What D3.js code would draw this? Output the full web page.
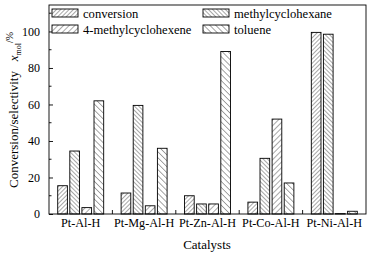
<!DOCTYPE html>
<html>
<head>
<meta charset="utf-8">
<script src="https://cdn.jsdelivr.net/npm/d3@7"></script>
<style>
  body { margin: 0; background: #fff; }
</style>
</head>
<body>
<svg id="canvas"></svg>
<script>
// data
const catalysts = ["Pt-Al-H", "Pt-Mg-Al-H", "Pt-Zn-Al-H", "Pt-Co-Al-H", "Pt-Ni-Al-H"];
const seriesNames = ["conversion", "methylcyclohexane", "4-methylcyclohexene", "toluene"];
const conversion = [15.5, 11.5, 10, 6.5, 99.5];
const methylcyclohexane = [34.5, 59.5, 5.5, 30.5, 98.5];
const methylcyclohexene = [3.5, 4.5, 5.5, 52, 0.2];
const toluene = [62, 36, 89, 17, 1.5];
const yTicks = [0, 20, 40, 60, 80, 100];
const yMinorTicks = [10, 30, 50, 70, 90, 110];

const values = [conversion, methylcyclohexane, methylcyclohexene, toluene];
const data = catalysts.map((c, i) => ({
    cat: c,
    vals: seriesNames.map((k, j) => ({ key: k, v: values[j][i] }))
}));

const width = 372, height = 257;
const serif = "Liberation Serif";
const svg = d3.select("#canvas").attr("width", width).attr("height", height)
    .attr("font-family", serif);

const marginTop = 5, marginRight = 6, marginBottom = 43, marginLeft = 49;
const plotR = width - marginRight;
const plotB = height - marginBottom;

// hatch patterns: angle, spacing
const hatch = [
    { id: "p0", rot: 45, gap: 3 },
    { id: "p1", rot: -45, gap: 3 },
    { id: "p2", rot: 45, gap: 4 },
    { id: "p3", rot: -45, gap: 4.2 }
];
const defs = svg.append("defs");
hatch.forEach(h => {
    const p = defs.append("pattern")
        .attr("id", h.id)
        .attr("patternUnits", "userSpaceOnUse")
        .attr("width", h.gap).attr("height", h.gap)
        .attr("patternTransform", `rotate(${h.rot})`);
    p.append("rect").attr("width", h.gap).attr("height", h.gap).attr("fill", "#fff");
    p.append("line")
        .attr("x1", 0).attr("y1", 0).attr("x2", 0).attr("y2", h.gap)
        .attr("stroke", "#222").attr("stroke-width", 0.8);
});
const fillOf = d3.scaleOrdinal().domain(seriesNames).range(hatch.map(h => `url(#${h.id})`));

const x0 = d3.scaleBand().domain(catalysts).range([marginLeft, plotR]).padding(0);
const x1 = d3.scaleBand().domain(seriesNames).range([0, x0.bandwidth()])
    .paddingInner(0.2).paddingOuter(0.72);
const y = d3.scaleLinear().domain([0, 114.5]).range([plotB, marginTop]);

// bars
svg.append("g")
    .selectAll("g")
    .data(data)
    .join("g")
    .attr("transform", d => `translate(${x0(d.cat)},0)`)
    .selectAll("rect")
    .data(d => d.vals)
    .join("rect")
    .attr("x", d => x1(d.key))
    .attr("y", d => y(d.v))
    .attr("width", x1.bandwidth())
    .attr("height", d => y(0) - y(d.v))
    .attr("fill", d => fillOf(d.key))
    .attr("stroke", "#000")
    .attr("stroke-width", 0.9);

// frame
svg.append("rect")
    .attr("x", marginLeft).attr("y", marginTop)
    .attr("width", plotR - marginLeft).attr("height", plotB - marginTop)
    .attr("fill", "none").attr("stroke", "#000").attr("stroke-width", 0.9);

// y axis, ticks inside
const yAxis = svg.append("g")
    .attr("transform", `translate(${marginLeft},0)`)
    .call(d3.axisLeft(y).tickValues(yTicks).tickSize(-4).tickPadding(9));
yAxis.attr("font-family", serif).attr("font-size", 12);
yAxis.select(".domain").remove();
yAxis.selectAll("line").attr("stroke-width", 0.9);
svg.append("g")
    .selectAll("line")
    .data(yMinorTicks)
    .join("line")
    .attr("x1", marginLeft).attr("x2", marginLeft + 2.5)
    .attr("y1", d => y(d)).attr("y2", d => y(d))
    .attr("stroke", "#000").attr("stroke-width", 0.9);

// x axis
const xAxis = svg.append("g")
    .attr("transform", `translate(0,${plotB})`)
    .call(d3.axisBottom(x0).tickSize(0).tickPadding(4));
xAxis.attr("font-family", serif).attr("font-size", 12.2);
xAxis.select(".domain").remove();
// group separator ticks
svg.append("g")
    .selectAll("line")
    .data(catalysts.slice(1))
    .join("line")
    .attr("x1", d => x0(d)).attr("x2", d => x0(d))
    .attr("y1", plotB).attr("y2", plotB - 4)
    .attr("stroke", "#000").attr("stroke-width", 0.9);

// axis titles
svg.append("text")
    .attr("x", 207)
    .attr("y", 249)
    .attr("text-anchor", "middle")
    .attr("font-size", 13)
    .text("Catalysts");

const yt = svg.append("text")
    .attr("transform", `translate(18,110) rotate(-90)`)
    .attr("text-anchor", "middle")
    .attr("font-size", 13);
yt.append("tspan").text("Conversion/selectivity\u2002 ");
yt.append("tspan").attr("font-style", "italic").text("x");
yt.append("tspan").attr("font-size", 8).attr("dy", 3).text("mol");
yt.append("tspan").attr("font-size", 10).attr("dy", -8).text("/%");

// legend
const legendPos = [
    { x: 52, y: 9 }, { x: 203, y: 9 },
    { x: 52, y: 25 }, { x: 203, y: 25 }
];
const lg = svg.append("g")
    .selectAll("g")
    .data(seriesNames)
    .join("g")
    .attr("transform", (d, i) => `translate(${legendPos[i].x},${legendPos[i].y})`);
lg.append("rect")
    .attr("width", 26).attr("height", 8)
    .attr("fill", d => fillOf(d))
    .attr("stroke", "#000").attr("stroke-width", 0.9);
lg.append("text")
    .attr("x", 31).attr("y", 8.5)
    .attr("font-size", 12.6)
    .text(d => d);
</script>
</body>
</html>
